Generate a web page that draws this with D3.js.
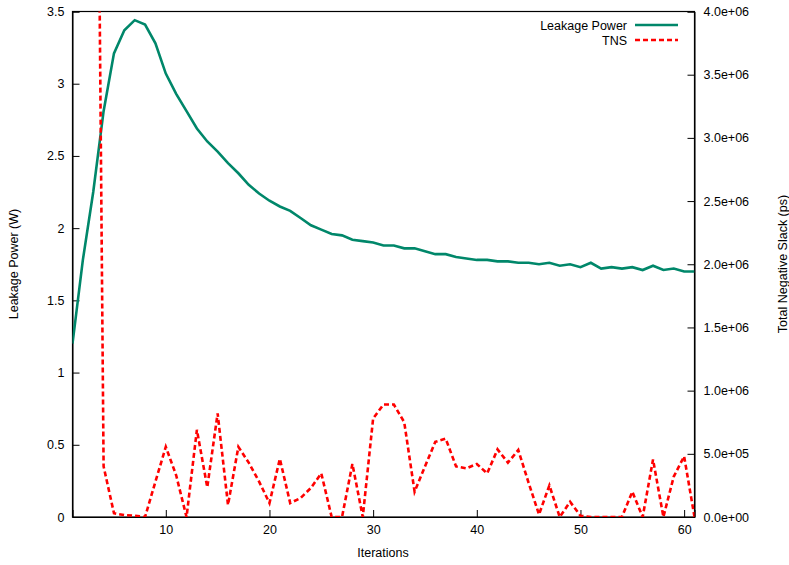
<!DOCTYPE html>
<html>
<head>
<meta charset="utf-8">
<script src="https://d3js.org/d3.v7.min.js"></script>
<style>
body { margin: 0; background: #fff; }
text { font-family: "Liberation Sans", Arial, sans-serif; font-size: 12.5px; fill: #000; }
</style>
</head>
<body>
<svg id="chart" width="789" height="565"></svg>
<script>
// iterations 1..61
var iterations = d3.range(1, 62);
var leakage = [1.20, 1.78, 2.25, 2.81, 3.21, 3.37, 3.44, 3.41, 3.28, 3.07,
  2.93, 2.81, 2.69, 2.60, 2.53, 2.45, 2.38, 2.30, 2.24, 2.19,
  2.15, 2.12, 2.07, 2.02, 1.99, 1.96, 1.95, 1.92, 1.91, 1.90,
  1.88, 1.88, 1.86, 1.86, 1.84, 1.82, 1.82, 1.80, 1.79, 1.78,
  1.78, 1.77, 1.77, 1.76, 1.76, 1.75, 1.76, 1.74, 1.75, 1.73,
  1.76, 1.72, 1.73, 1.72, 1.73, 1.71, 1.74, 1.71, 1.72, 1.70, 1.70];
// TNS in units of 1e6 ps (first three iterations are off the scale)
var tns = [12.0, 11.0, 10.0, 0.40, 0.03, 0.015, 0.01, 0.0, 0.28, 0.555,
  0.33, 0.0, 0.69, 0.235, 0.82, 0.095, 0.555, 0.43, 0.28, 0.11,
  0.46, 0.11, 0.15, 0.23, 0.345, 0.0, 0.0, 0.42, 0.0, 0.78,
  0.89, 0.89, 0.75, 0.20, 0.40, 0.595, 0.62, 0.40, 0.385, 0.42,
  0.345, 0.535, 0.43, 0.53, 0.27, 0.02, 0.25, 0.0, 0.12, 0.01,
  0.0, 0.0, 0.0, 0.0, 0.20, 0.0, 0.455, 0.0, 0.32, 0.48, 0.0];
var xTicks = [10, 20, 30, 40, 50, 60];
var yTicks = [0, 0.5, 1, 1.5, 2, 2.5, 3, 3.5];
var y2Ticks = [0, 0.5, 1, 1.5, 2, 2.5, 3, 3.5, 4];

var svg = d3.select("#chart");
var pLeft = 72.5, pRight = 694.5, pTop = 11.5, pBottom = 517;

var x = d3.scaleLinear().domain([1, 61]).range([pLeft, pRight]);
var y = d3.scaleLinear().domain([0, 3.5]).range([pBottom, pTop]);
var y2 = d3.scaleLinear().domain([0, 4]).range([pBottom, pTop]);

svg.append("clipPath").attr("id", "clip")
  .append("rect").attr("x", pLeft).attr("y", pTop)
  .attr("width", pRight - pLeft).attr("height", pBottom - pTop);

// axes, gnuplot style: ticks inward
svg.append("g").attr("transform", "translate(0," + pBottom + ")")
  .call(d3.axisTop(x).tickValues(xTicks).tickSize(7).tickFormat(""));
svg.append("g").attr("transform", "translate(0," + (pBottom + 8) + ")")
  .call(d3.axisBottom(x).tickValues(xTicks).tickSize(0).tickPadding(0))
  .call(function(g){ g.select(".domain").remove(); });

svg.append("g").attr("transform", "translate(" + pLeft + ",0)")
  .call(d3.axisRight(y).tickValues(yTicks).tickSize(7).tickFormat(""));
svg.append("g").attr("transform", "translate(" + (pLeft - 8) + ",0)")
  .call(d3.axisLeft(y).tickValues(yTicks).tickSize(0).tickPadding(0).tickFormat(d3.format("")))
  .call(function(g){ g.select(".domain").remove(); });

svg.append("g").attr("transform", "translate(" + pRight + ",0)")
  .call(d3.axisLeft(y2).tickValues(y2Ticks).tickSize(7).tickFormat(""));
svg.append("g").attr("transform", "translate(" + (pRight + 9) + ",0)")
  .call(d3.axisRight(y2).tickValues(y2Ticks).tickSize(0).tickPadding(0)
    .tickFormat(function(d){ return (d * 1e6).toExponential(1).replace(/e\+(\d)$/, "e+0$1"); }))
  .call(function(g){ g.select(".domain").remove(); });

svg.selectAll(".tick line").attr("stroke", "#000");
svg.selectAll(".tick text").style("font-size", "12.5px").style("font-family", "Liberation Sans, Arial, sans-serif");

// border box
svg.append("rect").attr("x", pLeft).attr("y", pTop)
  .attr("width", pRight - pLeft).attr("height", pBottom - pTop)
  .attr("fill", "none").attr("stroke", "#000").attr("stroke-width", 1.2);

var plot = svg.append("g").attr("clip-path", "url(#clip)");

var lineL = d3.line().x(function(d, i){ return x(iterations[i]); }).y(function(d){ return y(d); });
var lineT = d3.line().x(function(d, i){ return x(iterations[i]); }).y(function(d){ return y2(d); });

plot.append("path").datum(leakage).attr("d", lineL)
  .attr("fill", "none").attr("stroke", "#00876a").attr("stroke-width", 2.6);
plot.append("path").datum(tns).attr("d", lineT)
  .attr("fill", "none").attr("stroke", "#ff0000").attr("stroke-width", 2.6)
  .attr("stroke-dasharray", "5,3");

// legend
var legend = [{name: "Leakage Power", color: "#00876a", dash: null},
              {name: "TNS", color: "#ff0000", dash: "5,3"}];
legend.forEach(function(l, i){
  var ly = 25 + i * 15;
  svg.append("text").attr("x", 627).attr("y", ly + 4.5)
    .attr("text-anchor", "end").text(l.name);
  svg.append("line").attr("x1", 635).attr("x2", 678).attr("y1", ly).attr("y2", ly)
    .attr("stroke", l.color).attr("stroke-width", 2.6)
    .attr("stroke-dasharray", l.dash);
});

// axis titles
svg.append("text").attr("x", 383).attr("y", 557).attr("text-anchor", "middle").text("Iterations");
svg.append("text").attr("transform", "translate(18,264) rotate(-90)")
  .attr("text-anchor", "middle").text("Leakage Power (W)");
svg.append("text").attr("transform", "translate(787,264) rotate(-90)")
  .attr("text-anchor", "middle").text("Total Negative Slack (ps)");
</script>
</body>
</html>
